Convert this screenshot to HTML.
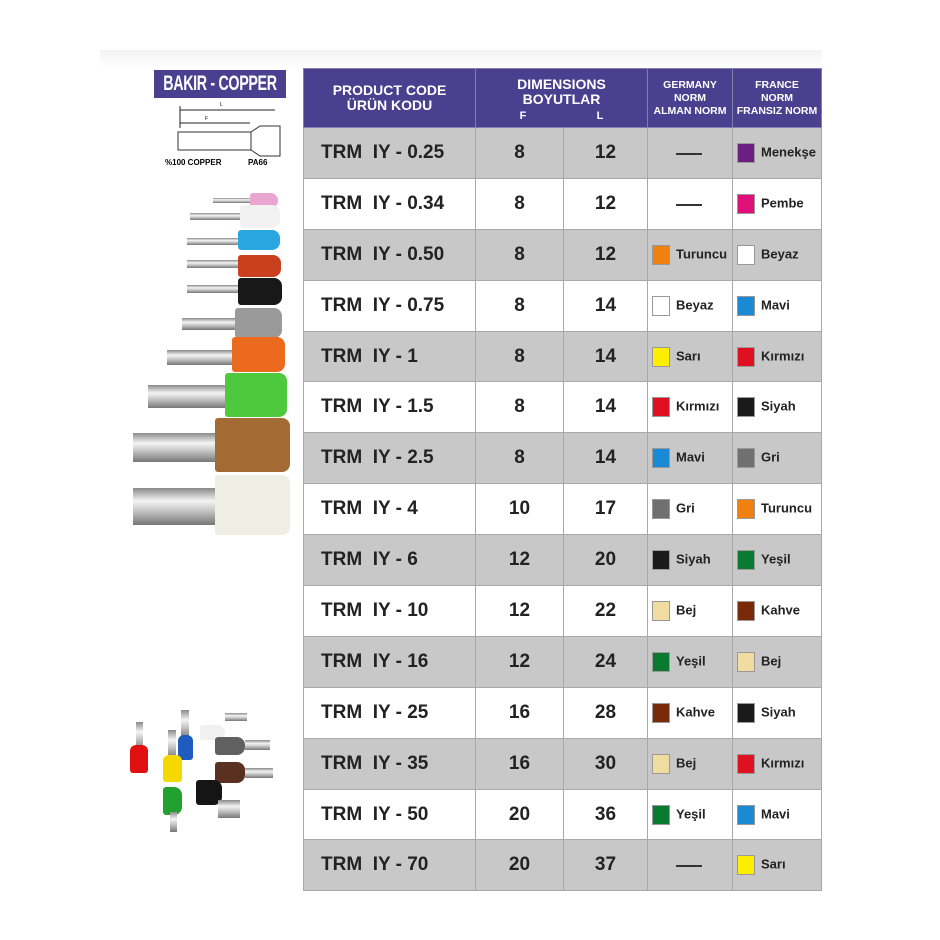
<!DOCTYPE html>
<html><head><meta charset="utf-8"><style>
*{margin:0;padding:0;box-sizing:border-box}
body{width:940px;height:940px;background:#fff;position:relative;overflow:hidden;font-family:"Liberation Sans",Arial,sans-serif}
.a{position:absolute}
.tube{position:absolute;background:linear-gradient(#8a8a8a,#f4f4f4 35%,#c8c8c8 60%,#777);}
.sl{position:absolute;border-radius:3px 8px 8px 3px}
table{position:absolute;left:303px;top:68px;border-collapse:collapse;width:519px}
td{border:1px solid #a8a8a8;height:50.9px;font-weight:bold;color:#222;font-size:19px;text-align:center;padding:0}
tr.h td{height:59px;background:#4b3f8f;color:#fff;border-color:#7f7fb0;font-size:13px;line-height:15px}
tr.g td{background:#c8c8c8}
td.c{text-align:left;padding-left:17px;font-size:19px}
.n{text-align:left;padding-left:4px;font-size:13px}
.sw{display:inline-block;width:18px;height:20px;vertical-align:middle;margin-right:6px;border:1px solid #999}
.d{display:inline-block;width:26px;border-top:2px solid #333;vertical-align:middle;margin-left:24px}
</style></head><body>
<div class="a" style="left:100px;top:50px;width:722px;height:18px;background:linear-gradient(#f2f2f2,#fff)"></div>
<div class="a" style="left:154px;top:70px;width:132px;height:28px;background:#4b3f8f"></div>
<div class="a" style="left:124px;top:70px;width:192px;height:28px;color:#fff;font-weight:bold;font-size:21px;text-align:center;line-height:28px;white-space:nowrap;transform:scaleX(0.68);letter-spacing:-0.5px">BAKIR - COPPER</div>
<svg class="a" style="left:160px;top:98px" width="130" height="70">
<line x1="20" y1="12" x2="115" y2="12" stroke="#222"/><line x1="20" y1="25" x2="90" y2="25" stroke="#222"/>
<line x1="20" y1="8" x2="20" y2="30" stroke="#222"/><text x="60" y="8" font-size="5">L</text><text x="45" y="22" font-size="5">F</text>
<rect x="18" y="34" width="73" height="18" fill="none" stroke="#333"/><path d="M91 34 L100 28 L120 28 L120 58 L100 58 L91 52" fill="none" stroke="#333"/>
<text x="5" y="67" font-size="8" font-weight="bold" font-family="Liberation Sans">%100 COPPER</text><text x="88" y="67" font-size="8" font-weight="bold" font-family="Liberation Sans">PA66</text>
</svg>
<div class="tube" style="left:213px;top:198px;width:40px;height:5px"></div><div class="sl" style="left:250px;top:193px;width:28px;height:15px;background:#eaa6d0"></div>
<div class="tube" style="left:190px;top:213px;width:55px;height:7px"></div><div class="sl" style="left:240px;top:205px;width:40px;height:23px;background:#f2f2f2"></div>
<div class="tube" style="left:187px;top:238px;width:55px;height:7px"></div><div class="sl" style="left:238px;top:230px;width:42px;height:20px;background:#2aa6e0"></div>
<div class="tube" style="left:187px;top:260px;width:55px;height:8px"></div><div class="sl" style="left:238px;top:255px;width:43px;height:22px;background:#c8401e"></div>
<div class="tube" style="left:187px;top:285px;width:55px;height:8px"></div><div class="sl" style="left:238px;top:278px;width:44px;height:27px;background:#181818"></div>
<div class="tube" style="left:182px;top:318px;width:56px;height:12px"></div><div class="sl" style="left:235px;top:308px;width:47px;height:30px;background:#9a9a9a"></div>
<div class="tube" style="left:167px;top:350px;width:68px;height:15px"></div><div class="sl" style="left:232px;top:337px;width:53px;height:35px;background:#ec6a1e"></div>
<div class="tube" style="left:148px;top:385px;width:80px;height:23px"></div><div class="sl" style="left:225px;top:373px;width:62px;height:44px;background:#4ec83c"></div>
<div class="tube" style="left:133px;top:433px;width:90px;height:29px"></div><div class="sl" style="left:215px;top:418px;width:75px;height:54px;background:#a46a34"></div>
<div class="tube" style="left:133px;top:488px;width:90px;height:37px"></div><div class="sl" style="left:215px;top:475px;width:75px;height:60px;background:#eeeee4"></div>
<div class="tube" style="left:136px;top:722px;width:7px;height:28px"></div><div class="sl" style="left:130px;top:745px;width:18px;height:28px;background:#e01010;border-radius:6px 6px 3px 3px"></div>
<div class="tube" style="left:181px;top:710px;width:8px;height:28px"></div><div class="sl" style="left:178px;top:735px;width:15px;height:25px;background:#1e5cc0;border-radius:6px 6px 3px 3px"></div>
<div class="tube" style="left:168px;top:730px;width:8px;height:28px"></div><div class="sl" style="left:163px;top:755px;width:19px;height:27px;background:#f4d800;border-radius:6px 6px 3px 3px"></div>
<div class="sl" style="left:163px;top:787px;width:19px;height:28px;background:#22a030"></div><div class="tube" style="left:170px;top:812px;width:7px;height:20px"></div>
<div class="sl" style="left:200px;top:725px;width:25px;height:15px;background:#f0f0f0"></div><div class="tube" style="left:225px;top:713px;width:22px;height:8px"></div>
<div class="sl" style="left:215px;top:737px;width:30px;height:18px;background:#606060"></div><div class="tube" style="left:245px;top:740px;width:25px;height:10px"></div>
<div class="sl" style="left:215px;top:762px;width:30px;height:21px;background:#5a3020"></div><div class="tube" style="left:245px;top:768px;width:28px;height:10px"></div>
<div class="sl" style="left:196px;top:780px;width:26px;height:25px;background:#151515"></div><div class="tube" style="left:218px;top:800px;width:22px;height:18px"></div>
<table>
<tr class="h"><td style="width:172px;font-size:14px">PRODUCT CODE<br>ÜRÜN KODU</td><td colspan="2" style="width:173px;font-size:14px;padding-top:4px">DIMENSIONS<br>BOYUTLAR<br><span style="font-size:11px">F &nbsp; &nbsp; &nbsp; &nbsp; &nbsp; &nbsp; &nbsp; &nbsp; &nbsp; &nbsp; &nbsp; L</span></td><td style="width:85px;font-size:10.5px;line-height:13px">GERMANY<br>NORM<br>ALMAN NORM</td><td style="width:89px;font-size:10.5px;line-height:13px">FRANCE<br>NORM<br>FRANSIZ NORM</td></tr>
<tr class="g"><td class="c">TRM &nbsp;IY - 0.25</td><td style="width:88px">8</td><td>12</td><td class="n"><span class="d"></span></td><td class="n"><span class="sw" style="background:#6b2080"></span>Menekşe</td></tr>
<tr><td class="c">TRM &nbsp;IY - 0.34</td><td>8</td><td>12</td><td class="n"><span class="d"></span></td><td class="n"><span class="sw" style="background:#e0107a"></span>Pembe</td></tr>
<tr class="g"><td class="c">TRM &nbsp;IY - 0.50</td><td>8</td><td>12</td><td class="n"><span class="sw" style="background:#f08010"></span>Turuncu</td><td class="n"><span class="sw" style="background:#fff"></span>Beyaz</td></tr>
<tr><td class="c">TRM &nbsp;IY - 0.75</td><td>8</td><td>14</td><td class="n"><span class="sw" style="background:#fff"></span>Beyaz</td><td class="n"><span class="sw" style="background:#1a8ad4"></span>Mavi</td></tr>
<tr class="g"><td class="c">TRM &nbsp;IY - 1</td><td>8</td><td>14</td><td class="n"><span class="sw" style="background:#ffee00"></span>Sarı</td><td class="n"><span class="sw" style="background:#e01020"></span>Kırmızı</td></tr>
<tr><td class="c">TRM &nbsp;IY - 1.5</td><td>8</td><td>14</td><td class="n"><span class="sw" style="background:#e01020"></span>Kırmızı</td><td class="n"><span class="sw" style="background:#1a1a1a"></span>Siyah</td></tr>
<tr class="g"><td class="c">TRM &nbsp;IY - 2.5</td><td>8</td><td>14</td><td class="n"><span class="sw" style="background:#1a8ad4"></span>Mavi</td><td class="n"><span class="sw" style="background:#707070"></span>Gri</td></tr>
<tr><td class="c">TRM &nbsp;IY - 4</td><td>10</td><td>17</td><td class="n"><span class="sw" style="background:#707070"></span>Gri</td><td class="n"><span class="sw" style="background:#f08010"></span>Turuncu</td></tr>
<tr class="g"><td class="c">TRM &nbsp;IY - 6</td><td>12</td><td>20</td><td class="n"><span class="sw" style="background:#1a1a1a"></span>Siyah</td><td class="n"><span class="sw" style="background:#0a7a30"></span>Yeşil</td></tr>
<tr><td class="c">TRM &nbsp;IY - 10</td><td>12</td><td>22</td><td class="n"><span class="sw" style="background:#f0dca0"></span>Bej</td><td class="n"><span class="sw" style="background:#7a2a08"></span>Kahve</td></tr>
<tr class="g"><td class="c">TRM &nbsp;IY - 16</td><td>12</td><td>24</td><td class="n"><span class="sw" style="background:#0a7a30"></span>Yeşil</td><td class="n"><span class="sw" style="background:#f0dca0"></span>Bej</td></tr>
<tr><td class="c">TRM &nbsp;IY - 25</td><td>16</td><td>28</td><td class="n"><span class="sw" style="background:#7a2a08"></span>Kahve</td><td class="n"><span class="sw" style="background:#1a1a1a"></span>Siyah</td></tr>
<tr class="g"><td class="c">TRM &nbsp;IY - 35</td><td>16</td><td>30</td><td class="n"><span class="sw" style="background:#f0dca0"></span>Bej</td><td class="n"><span class="sw" style="background:#e01020"></span>Kırmızı</td></tr>
<tr><td class="c">TRM &nbsp;IY - 50</td><td>20</td><td>36</td><td class="n"><span class="sw" style="background:#0a7a30"></span>Yeşil</td><td class="n"><span class="sw" style="background:#1a8ad4"></span>Mavi</td></tr>
<tr class="g"><td class="c">TRM &nbsp;IY - 70</td><td>20</td><td>37</td><td class="n"><span class="d"></span></td><td class="n"><span class="sw" style="background:#ffee00"></span>Sarı</td></tr>
</table>
</body></html>
